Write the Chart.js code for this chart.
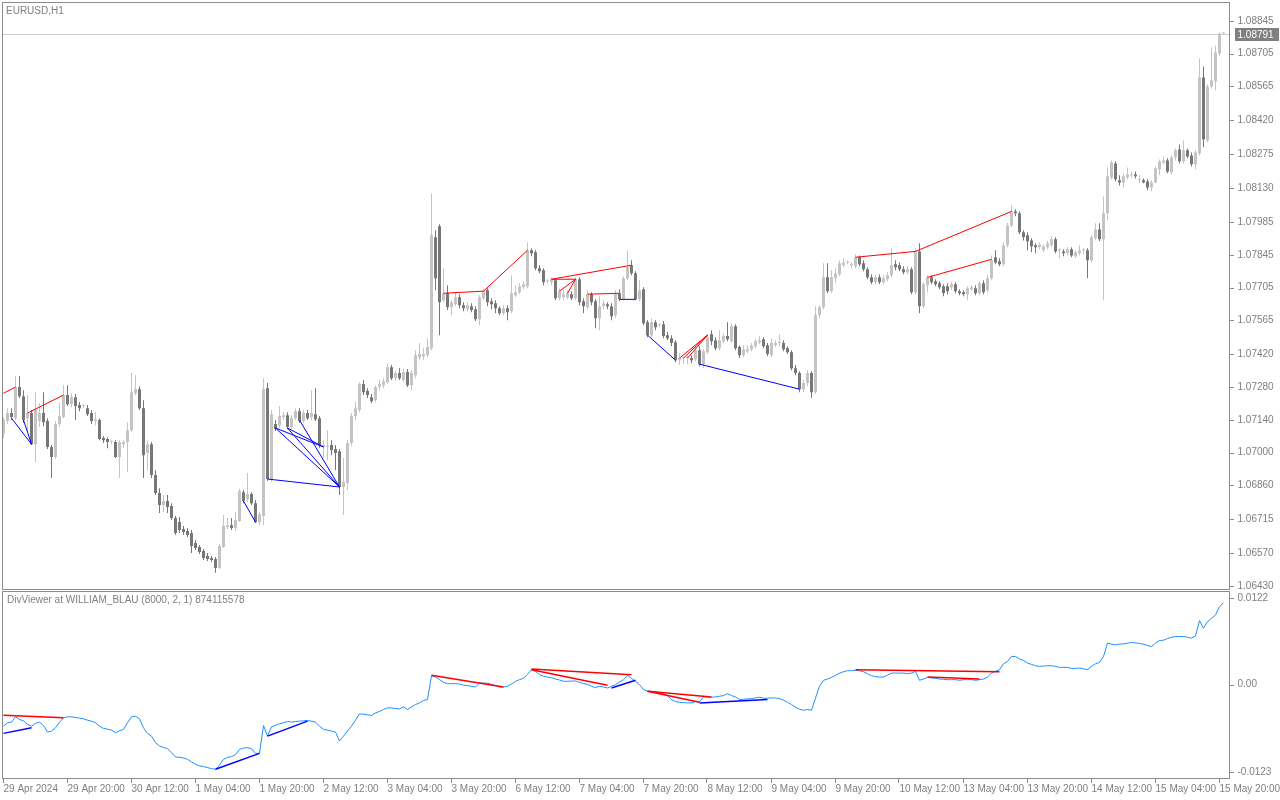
<!DOCTYPE html>
<html>
<head>
<meta charset="utf-8">
<title>EURUSD,H1</title>
<script src="https://cdn.jsdelivr.net/npm/chart.js@4.4.1/dist/chart.umd.min.js"></script>
<style>
  html, body { margin: 0; padding: 0; background: #fff; }
  #wrap { position: relative; width: 1280px; height: 800px; overflow: hidden; }
  canvas { position: absolute; left: 0; }
  #main { top: 0; }
  #sub { top: 590px; }
</style>
</head>
<body>
<div id="wrap">
  <canvas id="main" width="1280" height="590"></canvas>
  <canvas id="sub" width="1280" height="210"></canvas>
</div>
<script>
// time axis labels, one every 16 hourly bars
const tickLabels = ['29 Apr 2024', '29 Apr 20:00', '30 Apr 12:00', '1 May 04:00', '1 May 20:00',
  '2 May 12:00', '3 May 04:00', '3 May 20:00', '6 May 12:00', '7 May 04:00', '7 May 20:00',
  '8 May 12:00', '9 May 04:00', '9 May 20:00', '10 May 12:00', '13 May 04:00', '13 May 20:00',
  '14 May 12:00', '15 May 04:00', '15 May 20:00'];

const priceTicks = [1.08845, 1.08705, 1.08565, 1.08420, 1.08275, 1.08130, 1.07985, 1.07845, 1.07705,
  1.07565, 1.07420, 1.07280, 1.07140, 1.07000, 1.06860, 1.06715, 1.06570, 1.06430];
const indTicks = [0.0122, 0, -0.0123];

// EURUSD H1 candles
const opens = [
  1.07083,1.07135,1.07169,1.07147,1.07280,1.07241,1.07147,1.07169,1.07036,1.07135,
  1.07169,1.07135,1.07024,1.06981,1.07122,1.07152,1.07246,1.07207,1.07237,1.07203,
  1.07199,1.07190,1.07169,1.07135,1.07139,1.07062,1.07058,1.07045,1.07045,1.06981,
  1.07036,1.07045,1.07096,1.07254,1.07271,1.07190,1.06998,1.07036,1.06904,1.06827,
  1.06776,1.06793,1.06772,1.06720,1.06703,1.06673,1.06665,1.06656,1.06614,1.06597,
  1.06579,1.06558,1.06550,1.06545,1.06507,1.06597,1.06682,1.06690,1.06678,1.06708,
  1.06831,1.06801,1.06823,1.06784,1.06703,1.06729,1.07275,1.06883,1.07122,1.07117,
  1.07152,1.07160,1.07109,1.07147,1.07177,1.07135,1.07169,1.07152,1.07164,1.07147,
  1.07024,1.07024,1.07032,1.07015,1.07006,1.06853,1.06870,1.07041,1.07156,1.07182,
  1.07293,1.07263,1.07237,1.07224,1.07280,1.07288,1.07301,1.07365,1.07318,1.07340,
  1.07310,1.07344,1.07288,1.07331,1.07408,1.07412,1.07416,1.07446,1.07920,1.07967,
  1.07651,1.07681,1.07621,1.07634,1.07664,1.07630,1.07613,1.07626,1.07613,1.07570,
  1.07660,1.07694,1.07647,1.07638,1.07617,1.07596,1.07617,1.07604,1.07673,1.07685,
  1.07707,1.07711,1.07865,1.07856,1.07788,1.07779,1.07732,1.07728,1.07737,1.07660,
  1.07664,1.07664,1.07677,1.07660,1.07741,1.07647,1.07621,1.07677,1.07647,1.07574,
  1.07626,1.07634,1.07626,1.07587,1.07681,1.07655,1.07745,1.07801,1.07767,1.07655,
  1.07698,1.07557,1.07502,1.07557,1.07544,1.07549,1.07502,1.07489,1.07472,1.07395,
  1.07404,1.07404,1.07404,1.07399,1.07438,1.07378,1.07429,1.07506,1.07480,1.07446,
  1.07476,1.07498,1.07476,1.07540,1.07451,1.07416,1.07433,1.07442,1.07455,1.07472,
  1.07485,1.07459,1.07416,1.07459,1.07468,1.07468,1.07446,1.07429,1.07361,1.07340,
  1.07271,1.07297,1.07340,1.07258,1.07587,1.07621,1.07749,1.07690,1.07745,1.07762,
  1.07801,1.07813,1.07801,1.07796,1.07835,1.07809,1.07784,1.07749,1.07728,1.07749,
  1.07728,1.07741,1.07758,1.07805,1.07801,1.07784,1.07771,1.07784,1.07685,1.07860,
  1.07626,1.07715,1.07749,1.07732,1.07724,1.07711,1.07711,1.07707,1.07720,1.07690,
  1.07685,1.07677,1.07698,1.07702,1.07681,1.07724,1.07694,1.07745,1.07835,1.07818,
  1.07805,1.07886,1.07971,1.08031,1.08023,1.07942,1.07929,1.07907,1.07886,1.07878,
  1.07865,1.07878,1.07886,1.07912,1.07865,1.07860,1.07852,1.07869,1.07839,1.07852,
  1.07865,1.07865,1.07822,1.07916,1.07954,1.07912,1.08023,1.08176,1.08236,1.08164,
  1.08155,1.08176,1.08185,1.08189,1.08164,1.08164,1.08159,1.08133,1.08155,1.08211,
  1.08240,1.08249,1.08198,1.08262,1.08296,1.08245,1.08292,1.08270,1.08232,1.08279,
  1.08603,1.08334,1.08565,1.08586,1.08706,1.08791
];
const highs = [
  1.07152,1.07190,1.07190,1.07327,1.07327,1.07267,1.07246,1.07182,1.07258,1.07211,
  1.07258,1.07147,1.07032,1.07135,1.07211,1.07288,1.07288,1.07254,1.07250,1.07216,
  1.07207,1.07203,1.07182,1.07173,1.07147,1.07071,1.07066,1.07053,1.07053,1.07053,
  1.07053,1.07130,1.07340,1.07331,1.07284,1.07224,1.07053,1.07045,1.06925,1.06848,
  1.06819,1.06819,1.06784,1.06729,1.06725,1.06686,1.06678,1.06669,1.06626,1.06605,
  1.06588,1.06571,1.06558,1.06554,1.06609,1.06733,1.06720,1.06720,1.06746,1.06844,
  1.06840,1.06913,1.06831,1.06797,1.06746,1.07318,1.07297,1.07182,1.07139,1.07199,
  1.07173,1.07173,1.07160,1.07190,1.07190,1.07182,1.07182,1.07267,1.07275,1.07156,
  1.07053,1.07096,1.07053,1.07032,1.07015,1.06977,1.07053,1.07169,1.07216,1.07301,
  1.07310,1.07275,1.07250,1.07288,1.07310,1.07318,1.07382,1.07374,1.07352,1.07361,
  1.07357,1.07357,1.07352,1.07438,1.07468,1.07446,1.07489,1.08108,1.07950,1.07976,
  1.07788,1.07715,1.07651,1.07685,1.07677,1.07643,1.07643,1.07638,1.07626,1.07673,
  1.07698,1.07702,1.07660,1.07651,1.07626,1.07630,1.07630,1.07758,1.07715,1.07724,
  1.07732,1.07899,1.07873,1.07865,1.07801,1.07788,1.07741,1.07749,1.07745,1.07702,
  1.07694,1.07694,1.07690,1.07749,1.07749,1.07660,1.07694,1.07685,1.07655,1.07668,
  1.07651,1.07643,1.07638,1.07694,1.07698,1.07754,1.07865,1.07822,1.07775,1.07737,
  1.07707,1.07566,1.07574,1.07566,1.07553,1.07562,1.07515,1.07502,1.07480,1.07425,
  1.07412,1.07416,1.07416,1.07451,1.07455,1.07442,1.07506,1.07523,1.07493,1.07523,
  1.07510,1.07557,1.07553,1.07549,1.07459,1.07459,1.07459,1.07468,1.07485,1.07498,
  1.07493,1.07468,1.07489,1.07480,1.07506,1.07480,1.07455,1.07438,1.07374,1.07348,
  1.07310,1.07352,1.07348,1.07626,1.07630,1.07809,1.07809,1.07779,1.07788,1.07822,
  1.07831,1.07822,1.07813,1.07848,1.07843,1.07822,1.07792,1.07762,1.07758,1.07762,
  1.07758,1.07771,1.07873,1.07822,1.07813,1.07796,1.07796,1.07792,1.07873,1.07895,
  1.07728,1.07758,1.07758,1.07741,1.07732,1.07720,1.07724,1.07728,1.07728,1.07698,
  1.07694,1.07711,1.07715,1.07715,1.07732,1.07737,1.07758,1.07843,1.07865,1.07831,
  1.07899,1.07984,1.08057,1.08040,1.08031,1.07950,1.07942,1.07916,1.07895,1.07899,
  1.07890,1.07907,1.07925,1.07920,1.07873,1.07869,1.07878,1.07878,1.07865,1.07886,
  1.07873,1.07873,1.07929,1.07980,1.07980,1.08095,1.08219,1.08249,1.08245,1.08185,
  1.08194,1.08219,1.08202,1.08202,1.08185,1.08172,1.08168,1.08164,1.08223,1.08253,
  1.08266,1.08258,1.08270,1.08300,1.08317,1.08334,1.08300,1.08283,1.08292,1.08685,
  1.08650,1.08574,1.08732,1.08740,1.08796,1.08796
];
const lows = [
  1.07062,1.07122,1.07139,1.07139,1.07233,1.07126,1.07088,1.07032,1.06959,1.07109,
  1.07113,1.07015,1.06891,1.06972,1.07109,1.07147,1.07199,1.07194,1.07139,1.07177,
  1.07190,1.07156,1.07122,1.07117,1.07053,1.07041,1.07019,1.07036,1.06977,1.06891,
  1.07019,1.06917,1.07088,1.07246,1.07182,1.06891,1.06925,1.06891,1.06819,1.06742,
  1.06746,1.06742,1.06712,1.06648,1.06656,1.06648,1.06639,1.06571,1.06584,1.06567,
  1.06541,1.06537,1.06532,1.06486,1.06503,1.06592,1.06673,1.06669,1.06665,1.06703,
  1.06784,1.06789,1.06776,1.06699,1.06690,1.06690,1.06878,1.06874,1.07092,1.07105,
  1.07139,1.07100,1.07100,1.07139,1.07126,1.07126,1.07139,1.07139,1.07135,1.07019,
  1.06977,1.06968,1.06989,1.06925,1.06819,1.06733,1.06840,1.07028,1.07139,1.07173,
  1.07246,1.07233,1.07211,1.07216,1.07267,1.07275,1.07293,1.07310,1.07305,1.07310,
  1.07301,1.07280,1.07267,1.07318,1.07395,1.07395,1.07408,1.07438,1.07694,1.07502,
  1.07643,1.07609,1.07587,1.07626,1.07617,1.07604,1.07604,1.07600,1.07562,1.07544,
  1.07651,1.07626,1.07613,1.07596,1.07587,1.07587,1.07566,1.07596,1.07664,1.07677,
  1.07698,1.07702,1.07839,1.07779,1.07767,1.07715,1.07724,1.07715,1.07651,1.07651,
  1.07651,1.07655,1.07651,1.07651,1.07630,1.07596,1.07613,1.07630,1.07532,1.07523,
  1.07613,1.07613,1.07566,1.07574,1.07647,1.07651,1.07737,1.07758,1.07651,1.07647,
  1.07544,1.07493,1.07493,1.07523,1.07536,1.07489,1.07480,1.07455,1.07386,1.07374,
  1.07378,1.07378,1.07382,1.07391,1.07369,1.07361,1.07421,1.07459,1.07438,1.07438,
  1.07468,1.07476,1.07468,1.07438,1.07404,1.07408,1.07425,1.07433,1.07446,1.07463,
  1.07446,1.07412,1.07408,1.07451,1.07455,1.07433,1.07421,1.07352,1.07331,1.07258,
  1.07258,1.07284,1.07233,1.07250,1.07574,1.07613,1.07681,1.07681,1.07724,1.07754,
  1.07792,1.07805,1.07788,1.07788,1.07796,1.07775,1.07741,1.07720,1.07720,1.07720,
  1.07720,1.07732,1.07749,1.07779,1.07775,1.07762,1.07762,1.07677,1.07677,1.07596,
  1.07617,1.07685,1.07720,1.07711,1.07698,1.07668,1.07677,1.07694,1.07681,1.07673,
  1.07668,1.07651,1.07690,1.07673,1.07673,1.07677,1.07685,1.07737,1.07805,1.07796,
  1.07796,1.07878,1.07963,1.08010,1.07933,1.07907,1.07865,1.07856,1.07852,1.07869,
  1.07856,1.07869,1.07878,1.07852,1.07831,1.07839,1.07843,1.07835,1.07831,1.07843,
  1.07848,1.07745,1.07813,1.07907,1.07903,1.07651,1.07993,1.08168,1.08159,1.08142,
  1.08133,1.08168,1.08176,1.08172,1.08151,1.08151,1.08121,1.08117,1.08151,1.08185,
  1.08232,1.08194,1.08189,1.08249,1.08236,1.08236,1.08258,1.08223,1.08211,1.08270,
  1.08305,1.08326,1.08556,1.08548,1.08697,1.08787
];
const closes = [
  1.07139,1.07169,1.07152,1.07280,1.07241,1.07139,1.07169,1.07036,1.07182,1.07169,
  1.07130,1.07024,1.06981,1.07122,1.07156,1.07246,1.07207,1.07237,1.07199,1.07190,
  1.07199,1.07164,1.07135,1.07143,1.07058,1.07053,1.07045,1.07045,1.06981,1.07045,
  1.07045,1.07096,1.07258,1.07271,1.07190,1.06989,1.07036,1.06904,1.06827,1.06776,
  1.06793,1.06767,1.06720,1.06656,1.06669,1.06661,1.06648,1.06601,1.06592,1.06575,
  1.06550,1.06545,1.06541,1.06507,1.06601,1.06686,1.06690,1.06678,1.06712,1.06836,
  1.06793,1.06823,1.06784,1.06703,1.06737,1.07271,1.06887,1.07164,1.07100,1.07156,
  1.07160,1.07109,1.07147,1.07177,1.07135,1.07169,1.07147,1.07169,1.07143,1.07032,
  1.07032,1.07028,1.07011,1.06998,1.06853,1.06874,1.07041,1.07156,1.07190,1.07293,
  1.07258,1.07246,1.07220,1.07280,1.07293,1.07305,1.07365,1.07318,1.07340,1.07318,
  1.07344,1.07288,1.07340,1.07416,1.07421,1.07421,1.07451,1.07929,1.07745,1.07643,
  1.07681,1.07621,1.07643,1.07664,1.07630,1.07617,1.07630,1.07609,1.07570,1.07664,
  1.07690,1.07643,1.07634,1.07617,1.07596,1.07617,1.07600,1.07681,1.07685,1.07711,
  1.07720,1.07865,1.07852,1.07788,1.07775,1.07728,1.07732,1.07741,1.07660,1.07690,
  1.07677,1.07681,1.07660,1.07741,1.07643,1.07626,1.07677,1.07643,1.07574,1.07626,
  1.07638,1.07626,1.07583,1.07681,1.07655,1.07745,1.07792,1.07767,1.07655,1.07694,
  1.07553,1.07502,1.07557,1.07536,1.07544,1.07498,1.07489,1.07468,1.07395,1.07404,
  1.07404,1.07404,1.07395,1.07438,1.07378,1.07433,1.07493,1.07476,1.07446,1.07480,
  1.07498,1.07485,1.07540,1.07446,1.07416,1.07442,1.07442,1.07459,1.07476,1.07480,
  1.07455,1.07421,1.07468,1.07468,1.07468,1.07442,1.07429,1.07361,1.07340,1.07271,
  1.07297,1.07340,1.07258,1.07587,1.07621,1.07749,1.07690,1.07749,1.07767,1.07809,
  1.07813,1.07813,1.07801,1.07835,1.07805,1.07784,1.07749,1.07728,1.07749,1.07728,
  1.07745,1.07758,1.07801,1.07792,1.07784,1.07771,1.07784,1.07685,1.07860,1.07626,
  1.07720,1.07749,1.07728,1.07720,1.07707,1.07681,1.07690,1.07720,1.07690,1.07681,
  1.07677,1.07702,1.07707,1.07681,1.07724,1.07685,1.07745,1.07822,1.07813,1.07805,
  1.07886,1.07971,1.08031,1.08023,1.07942,1.07920,1.07903,1.07882,1.07878,1.07890,
  1.07882,1.07895,1.07912,1.07860,1.07865,1.07852,1.07869,1.07843,1.07856,1.07865,
  1.07865,1.07822,1.07920,1.07954,1.07912,1.08023,1.08181,1.08240,1.08168,1.08155,
  1.08181,1.08189,1.08189,1.08181,1.08164,1.08155,1.08133,1.08155,1.08215,1.08245,
  1.08249,1.08202,1.08262,1.08292,1.08245,1.08292,1.08266,1.08232,1.08283,1.08603,
  1.08339,1.08565,1.08591,1.08710,1.08791,1.08791
];

// DivViewer (WILLIAM_BLAU) indicator line
const divIndicator = [
  -0.00584,-0.00537,-0.00528,-0.00453,-0.00490,-0.00509,-0.00560,-0.00584,-0.00546,-0.00528,
  -0.00574,-0.00668,-0.00654,-0.00607,-0.00528,-0.00467,-0.00453,-0.00453,-0.00462,-0.00472,
  -0.00481,-0.00500,-0.00514,-0.00537,-0.00584,-0.00616,-0.00626,-0.00640,-0.00677,-0.00649,
  -0.00630,-0.00537,-0.00453,-0.00444,-0.00481,-0.00607,-0.00686,-0.00724,-0.00817,-0.00864,
  -0.00883,-0.00901,-0.00957,-0.01018,-0.01023,-0.01032,-0.01051,-0.01088,-0.01121,-0.01144,
  -0.01153,-0.01168,-0.01182,-0.01191,-0.01135,-0.01051,-0.01023,-0.01013,-0.00985,-0.00911,
  -0.00892,-0.00887,-0.00901,-0.00967,-0.00967,-0.00574,-0.00724,-0.00593,-0.00574,-0.00551,
  -0.00537,-0.00518,-0.00528,-0.00518,-0.00514,-0.00509,-0.00504,-0.00514,-0.00528,-0.00584,
  -0.00630,-0.00640,-0.00654,-0.00668,-0.00794,-0.00724,-0.00654,-0.00584,-0.00500,-0.00411,
  -0.00416,-0.00425,-0.00434,-0.00397,-0.00378,-0.00350,-0.00327,-0.00327,-0.00336,-0.00341,
  -0.00313,-0.00350,-0.00313,-0.00280,-0.00257,-0.00224,-0.00210,0.00126,0.00107,0.00070,
  0.00033,0.00014,0.00014,0.00014,0.00009,-0.00009,-0.00014,-0.00023,-0.00033,0.00023,
  0.00023,0.00019,0.00005,-0.00014,-0.00033,-0.00033,-0.00023,0.00009,0.00047,0.00070,
  0.00089,0.00145,0.00210,0.00187,0.00140,0.00117,0.00107,0.00098,0.00079,0.00065,
  0.00047,0.00047,0.00051,0.00051,0.00033,0.00014,0.00005,-0.00023,-0.00042,-0.00023,
  -0.00033,-0.00047,-0.00023,0.00000,0.00037,0.00070,0.00126,0.00089,0.00047,0.00000,
  -0.00070,-0.00093,-0.00093,-0.00103,-0.00117,-0.00131,-0.00154,-0.00210,-0.00238,-0.00248,
  -0.00252,-0.00257,-0.00257,-0.00238,-0.00243,-0.00173,-0.00173,-0.00177,-0.00173,-0.00163,
  -0.00154,-0.00126,-0.00154,-0.00173,-0.00210,-0.00205,-0.00201,-0.00196,-0.00187,-0.00177,
  -0.00191,-0.00191,-0.00187,-0.00187,-0.00196,-0.00219,-0.00248,-0.00280,-0.00318,-0.00346,
  -0.00360,-0.00350,-0.00360,-0.00187,-0.00023,0.00061,0.00079,0.00103,0.00131,0.00163,
  0.00182,0.00196,0.00196,0.00201,0.00196,0.00182,0.00154,0.00126,0.00112,0.00107,
  0.00107,0.00135,0.00163,0.00163,0.00163,0.00163,0.00154,0.00163,0.00187,0.00061,
  0.00079,0.00103,0.00093,0.00089,0.00079,0.00075,0.00070,0.00070,0.00070,0.00061,
  0.00070,0.00070,0.00070,0.00061,0.00070,0.00079,0.00107,0.00163,0.00187,0.00210,
  0.00294,0.00327,0.00397,0.00397,0.00360,0.00341,0.00304,0.00285,0.00266,0.00257,
  0.00262,0.00266,0.00266,0.00257,0.00243,0.00243,0.00243,0.00229,0.00229,0.00234,
  0.00224,0.00210,0.00257,0.00294,0.00313,0.00397,0.00584,0.00570,0.00560,0.00570,
  0.00574,0.00584,0.00593,0.00588,0.00579,0.00570,0.00551,0.00537,0.00584,0.00621,
  0.00626,0.00649,0.00668,0.00677,0.00677,0.00677,0.00668,0.00654,0.00686,0.00901,
  0.00794,0.00887,0.00934,0.00981,0.01097,0.01153
];

// divergence lines: [bar from, value from, bar to, value to]
const priceRedLines = [
  [0, 1.07254, 3, 1.07280], [6, 1.07169, 15, 1.07246],
  [110, 1.07681, 120, 1.07690], [120, 1.07690, 131, 1.07865],
  [137, 1.07741, 157, 1.07801], [137, 1.07741, 143, 1.07741],
  [139, 1.07690, 143, 1.07741], [141, 1.07681, 143, 1.07741],
  [146, 1.07677, 154, 1.07681],
  [169, 1.07404, 176, 1.07502], [170, 1.07404, 176, 1.07502], [171, 1.07404, 176, 1.07502],
  [213, 1.07835, 228, 1.07860], [228, 1.07860, 252, 1.08031], [231, 1.07749, 247, 1.07826]
];
const priceBlueLines = [
  [2, 1.07147, 7, 1.07036], [5, 1.07139, 7, 1.07036],
  [60, 1.06793, 63, 1.06703], [66, 1.06887, 84, 1.06853],
  [68, 1.07105, 84, 1.06853], [68, 1.07105, 80, 1.07024],
  [71, 1.07105, 84, 1.06853], [71, 1.07105, 80, 1.07024], [74, 1.07139, 84, 1.06853],
  [154, 1.07655, 158, 1.07655], [161, 1.07502, 168, 1.07395], [174, 1.07378, 199, 1.07271]
];
const indRedLines = [
  [0, -0.00430, 15, -0.00467], [107, 0.00131, 125, -0.00033],
  [132, 0.00219, 157, 0.00140], [132, 0.00210, 151, -0.00009],
  [161, -0.00093, 174, -0.00248], [161, -0.00093, 177, -0.00173],
  [213, 0.00210, 249, 0.00182], [231, 0.00107, 244, 0.00079]
];
const indBlueLines = [
  [0, -0.00686, 7, -0.00607], [53, -0.01191, 64, -0.00967],
  [66, -0.00724, 76, -0.00514], [152, -0.00047, 158, 0.00061],
  [174, -0.00257, 191, -0.00210]
];

const n = closes.length;
const labels = closes.map((_, i) => String(i));
const txtColor = '#7f7f7f';
const frameColor = '#8c8c8c';
const fontFam = "'Liberation Sans', Arial, sans-serif";
const candleColors = closes.map((c, i) => c >= opens[i] ? '#c4c4c4' : '#777777');

function segDatasets(segs, color, width) {
  return segs.map(s => {
    const d = new Array(n).fill(null);
    d[s[0]] = s[1];
    d[s[2]] = s[3];
    return { type: 'line', data: d, borderColor: color, borderWidth: width,
      pointRadius: 0, spanGaps: true, tension: 0, order: 1 };
  });
}

const mainDecor = {
  id: 'mainDecor',
  beforeDraw(chart) {
    const c = chart.ctx;
    c.save();
    c.fillStyle = '#fff';
    c.fillRect(0, 0, chart.width, chart.height);
    c.restore();
  },
  beforeDatasetsDraw(chart) {
    // current bid line
    const c = chart.ctx;
    const py = Math.round(chart.scales.y.getPixelForValue(closes[n - 1])) + 0.5;
    c.save();
    c.strokeStyle = '#cccccc';
    c.lineWidth = 1;
    c.beginPath();
    c.moveTo(3, py);
    c.lineTo(1229, py);
    c.stroke();
    c.restore();
  },
  afterDraw(chart) {
    const c = chart.ctx, y = chart.scales.y;
    c.save();
    c.strokeStyle = frameColor;
    c.lineWidth = 1;
    c.strokeRect(2.5, 2.5, 1227, 587);
    c.beginPath();
    priceTicks.forEach(v => {
      const py = Math.round(y.getPixelForValue(v)) + 0.5;
      c.moveTo(1230, py);
      c.lineTo(1234, py);
    });
    c.stroke();
    c.font = '10px ' + fontFam;
    c.textBaseline = 'middle';
    c.fillStyle = txtColor;
    c.fillText('EURUSD,H1', 6, 11);
    // price tag
    const py = Math.round(y.getPixelForValue(closes[n - 1]));
    c.fillStyle = '#808080';
    c.fillRect(1235, py - 6, 44, 13);
    c.fillStyle = '#ffffff';
    c.fillText(closes[n - 1].toFixed(5), 1237.5, py + 1);
    c.restore();
  }
};

const subDecor = {
  id: 'subDecor',
  beforeDraw(chart) {
    const c = chart.ctx;
    c.save();
    c.fillStyle = '#fff';
    c.fillRect(0, 0, chart.width, chart.height);
    c.restore();
  },
  afterDraw(chart) {
    const c = chart.ctx, x = chart.scales.x, y = chart.scales.y;
    c.save();
    c.strokeStyle = frameColor;
    c.lineWidth = 1;
    c.strokeRect(2.5, 1.5, 1227, 187);
    c.beginPath();
    x.ticks.forEach((t, k) => {
      const px = Math.round(x.getPixelForTick(k)) - 0.5;
      c.moveTo(px, 189);
      c.lineTo(px, 193);
    });
    indTicks.forEach(v => {
      const py = Math.round(y.getPixelForValue(v)) + 0.5;
      c.moveTo(1230, py);
      c.lineTo(1234, py);
    });
    c.stroke();
    c.font = '10px ' + fontFam;
    c.textBaseline = 'middle';
    c.fillStyle = txtColor;
    c.fillText('DivViewer at WILLIAM_BLAU (8000, 2, 1) 874115578', 7, 10);
    c.restore();
  }
};

const yAxisCommon = {
  position: 'right',
  grid: { display: false, drawTicks: false },
  border: { display: false },
  ticks: { color: txtColor, font: { family: fontFam, size: 10 }, padding: 12 }
};

new Chart(document.getElementById('main'), {
  type: 'bar',
  data: {
    labels: labels,
    datasets: [
      { data: lows.map((l, i) => [l, highs[i]]), backgroundColor: candleColors,
        barThickness: 1, grouped: false, inflateAmount: 0, borderWidth: 0, order: 3 },
      { data: opens.map((o, i) => [o, closes[i]]), backgroundColor: candleColors,
        barThickness: 3, grouped: false, inflateAmount: 0, borderWidth: 0, minBarLength: 1, order: 2 },
      ...segDatasets(priceRedLines, '#ff0000', 1),
      ...segDatasets(priceBlueLines, '#0000ff', 1)
    ]
  },
  options: {
    responsive: false,
    animation: false,
    devicePixelRatio: 1,
    layout: { padding: { left: 1.5, top: 2, right: 0, bottom: 1 } },
    plugins: { legend: { display: false }, tooltip: { enabled: false } },
    scales: {
      x: { display: false, offset: true },
      y: {
        ...yAxisCommon,
        min: 1.06417,
        max: 1.08926,
        ticks: { ...yAxisCommon.ticks, callback: v => Number(v).toFixed(5) },
        afterBuildTicks: s => { s.ticks = priceTicks.map(v => ({ value: v })); },
        afterFit: s => { s.width = 54.5; s.paddingTop = 0; s.paddingBottom = 0; }
      }
    }
  },
  plugins: [mainDecor]
});

new Chart(document.getElementById('sub'), {
  type: 'line',
  data: {
    labels: labels,
    datasets: [
      { data: divIndicator, borderColor: '#1e90ff', borderWidth: 1, pointRadius: 0, tension: 0, order: 2 },
      ...segDatasets(indRedLines, '#ff0000', 1.5),
      ...segDatasets(indBlueLines, '#0000ff', 1.5)
    ]
  },
  options: {
    responsive: false,
    animation: false,
    devicePixelRatio: 1,
    layout: { padding: { left: 1.5, top: 2, right: 0, bottom: 0 } },
    plugins: { legend: { display: false }, tooltip: { enabled: false } },
    scales: {
      x: {
        offset: true,
        grid: { display: false, drawTicks: false },
        border: { display: false },
        ticks: {
          autoSkip: false, maxRotation: 0, minRotation: 0, align: 'start', padding: 5,
          color: txtColor, font: { family: fontFam, size: 10 },
          callback: v => (v % 16 === 0 ? tickLabels[v / 16] : '')
        },
        afterBuildTicks: s => { s.ticks = s.ticks.filter(t => t.value % 16 === 0); },
        afterFit: s => { s.height = 22; s.paddingLeft = 0; s.paddingRight = 0; }
      },
      y: {
        ...yAxisCommon,
        min: -0.01314,
        max: 0.01304,
        ticks: { ...yAxisCommon.ticks, callback: v => (v === 0 ? '0.00' : Number(v).toFixed(4)) },
        afterBuildTicks: s => { s.ticks = indTicks.map(v => ({ value: v })); },
        afterFit: s => { s.width = 54.5; s.paddingTop = 0; s.paddingBottom = 0; }
      }
    }
  },
  plugins: [subDecor]
});
</script>
</body>
</html>
